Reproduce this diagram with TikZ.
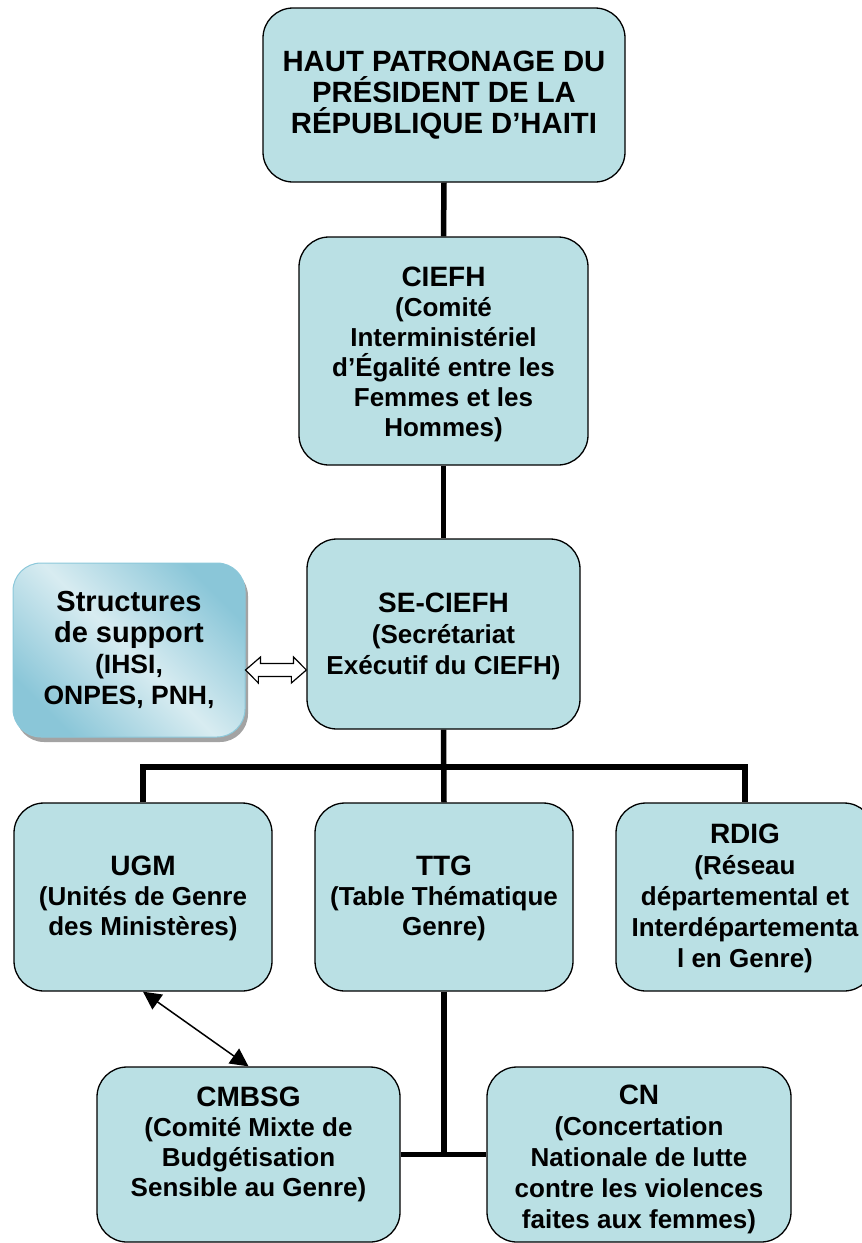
\documentclass[tikz,border=0pt]{standalone}
\usepackage{fontspec}
\setmainfont{Liberation Sans}
\usetikzlibrary{arrows.meta,shadows}
\definecolor{boxfill}{RGB}{186,224,228}
\definecolor{supdark}{RGB}{138,198,216}
\definecolor{suplight}{RGB}{216,236,241}
\definecolor{supedge}{RGB}{140,200,218}
\newcommand\titlef{\fontsize{28}{30}\selectfont}
\begin{document}
\begin{tikzpicture}[x=1pt,y=-1pt,
  box/.style={draw=black, line width=1.3pt, fill=boxfill, rounded corners=30pt, inner sep=0pt},
  txt/.style={align=center, inner sep=0pt, font=\fontsize{26}{30}\selectfont\bfseries},
  conn/.style={line width=5.5pt, line join=miter},
  thinarrow/.style={line width=1.5pt, {Triangle[length=18pt,width=18pt]}-{Triangle[length=18pt,width=18pt]}},
  suppbox/.style={draw=supedge, line width=1pt, rounded corners=28pt, inner sep=0pt,
    left color=supdark, right color=supdark, middle color=suplight, shading angle=-45,
    drop shadow={shadow xshift=3pt, shadow yshift=-5pt, fill=black!45, opacity=0.8}},
  dblarrow/.style={draw=black, line width=1.2pt, fill=white, line join=miter}
]
\useasboundingbox (0,0) rectangle (862,1243);
\clip (0,0) rectangle (862,1243);

% boxes
\node[box, minimum width=362pt, minimum height=174pt] (top) at (444,95) {};
\node[box, minimum width=289pt, minimum height=228pt] (ciefh) at (443.5,351) {};
\node[box, minimum width=273pt, minimum height=190pt] (se) at (443.5,634) {};
\node[suppbox, minimum width=232pt, minimum height=174pt] (sup) at (129,650) {};
\node[box, minimum width=258pt, minimum height=188pt] (ugm) at (143,897) {};
\node[box, minimum width=258pt, minimum height=188pt] (ttg) at (444,897) {};
\node[box, minimum width=258pt, minimum height=188pt] (rdig) at (745,897) {};
\node[box, minimum width=303pt, minimum height=175pt] (cmbsg) at (248.5,1154.5) {};
\node[box, minimum width=304pt, minimum height=175pt] (cn) at (639,1154.5) {};

% texts
\node[txt, font=\fontsize{29.3}{31}\selectfont\bfseries] (top-t) at (top.center)
  {HAUT PATRONAGE DU\\PRÉSIDENT DE LA\\RÉPUBLIQUE D’HAITI};
\node[txt] (ciefh-t) at ([yshift=-3pt]ciefh.center)
  {{\titlef CIEFH}\\(Comité\\Interministériel\\d’Égalité entre les\\Femmes et les\\Hommes)};
\node[txt, font=\fontsize{26}{31}\selectfont\bfseries] (se-t) at ([yshift=-2pt]se.center)
  {{\titlef SE-CIEFH}\\(Secrétariat\\Exécutif du CIEFH)};
\node[txt, font=\fontsize{26.5}{31}\selectfont\bfseries] (sup-t) at (sup.center)
  {{\fontsize{29}{31}\selectfont Structures}\\{\fontsize{29}{31}\selectfont de support}\\(IHSI,\\ONPES, PNH,};
\node[txt] (ugm-t) at ([yshift=-1pt]ugm.center)
  {{\titlef UGM}\\(Unités de Genre\\des Ministères)};
\node[txt] (ttg-t) at ([yshift=-1pt]ttg.center)
  {{\titlef TTG}\\(Table Thématique\\Genre)};
\node[txt, font=\fontsize{26}{31}\selectfont\bfseries] (rdig-t) at ([yshift=-1pt]rdig.center)
  {{\titlef RDIG}\\(Réseau\\départemental et\\Interdépartementa\\l en Genre)};
\node[txt] (cmbsg-t) at ([yshift=10pt]cmbsg.center)
  {{\titlef CMBSG}\\(Comité Mixte de\\Budgétisation\\Sensible au Genre)};
\node[txt, font=\fontsize{26}{31}\selectfont\bfseries] (cn-t) at ([yshift=-5pt]cn.center)
  {{\titlef CN}\\(Concertation\\Nationale de lutte\\contre les violences\\faites aux femmes)};

% connectors
\coordinate (bar) at (444,767);
\draw[conn] (top.south) -- (ciefh.north);
\draw[conn] (ciefh.south) -- (se.north);
\draw[conn] (se.south) -- (ttg.north);
\draw[conn] (ugm.north) -- (ugm.north |- bar) -- (rdig.north |- bar) -- (rdig.north);
\draw[conn] (ttg.south) -- (ttg.south |- cmbsg.east);
\draw[conn] (cmbsg.east) -- (cn.west);
\draw[thinarrow] (ugm.south) -- (cmbsg.north);

% hollow double arrow between support structures and SE-CIEFH
\coordinate (dal) at (sup.east |- 0,670);
\coordinate (dar) at (se.west |- 0,670);
\draw[dblarrow] (dal) -- ++(15,-13) -- ++(0,6.5) -- ++(33,0) -- ++(0,-6.5) -- (dar)
  -- ++(-15,13) -- ++(0,-6.5) -- ++(-33,0) -- ++(0,6.5) -- cycle;
\end{tikzpicture}
\end{document}
